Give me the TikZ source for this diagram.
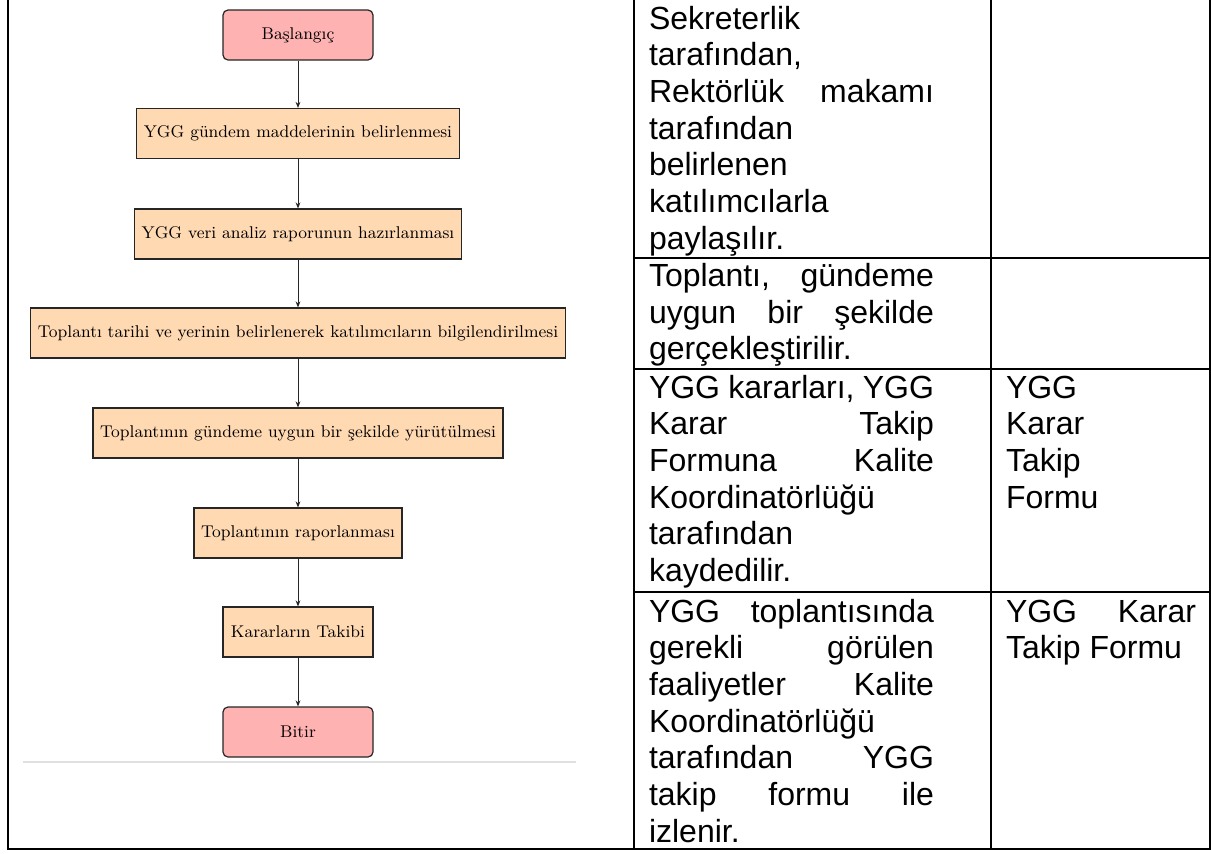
\documentclass[tikz,border=0pt]{standalone}
\usepackage{fontspec}
\newfontfamily\arialf{Liberation Sans}
\usetikzlibrary{arrows.meta}
\newlength{\colw}
\newlength{\colwb}
\setlength{\colw}{142.5pt}
\setlength{\colwb}{95pt}
\newcommand{\Jl}[1]{\hbox to \colw{#1}}
\newcommand{\Jr}[1]{\hbox to \colwb{#1}}
\begin{document}
\begin{tikzpicture}[x=0.5pt,y=-0.5pt,
  startstop/.style={rectangle, rounded corners=2.5pt, minimum width=75pt, minimum height=25pt,
    draw=black!85, line width=0.6pt, fill=red!30, inner sep=3.5pt,
    font=\fontsize{8.5}{10}\selectfont},
  procbox/.style={rectangle, minimum width=75pt, minimum height=25pt,
    draw=black!85, line width=0.6pt, fill=orange!30, inner sep=3.5pt,
    font=\fontsize{8.5}{10}\selectfont},
  flow/.style={-{Stealth[length=3pt,width=2.4pt]}, line width=0.5pt, black!85},
  gridline/.style={line width=1.1pt, black, line cap=rect},
  cell/.style={anchor=base west, inner sep=0pt, outer sep=0pt,
    font=\arialf\fontsize{16}{18.35}\selectfont}]
\useasboundingbox (0,0) rectangle (1211,853);
% flowchart
\node[startstop] (s) at (298,35) {Başlangıç};
\node[procbox] (p1) at (298,133.5) {YGG gündem maddelerinin belirlenmesi};
\node[procbox] (p2) at (298,234) {YGG veri analiz raporunun hazırlanması};
\node[procbox] (p3) at (298,333) {Toplantı tarihi ve yerinin belirlenerek katılımcıların bilgilendirilmesi};
\node[procbox] (p4) at (298,433) {Toplantının gündeme uygun bir şekilde yürütülmesi};
\node[procbox] (p5) at (298,533) {Toplantının raporlanması};
\node[procbox] (p6) at (298,632) {Kararların Takibi};
\node[startstop] (e) at (298,732) {Bitir};
\draw[flow] (s) -- (p1);
\draw[flow] (p1) -- (p2);
\draw[flow] (p2) -- (p3);
\draw[flow] (p3) -- (p4);
\draw[flow] (p4) -- (p5);
\draw[flow] (p5) -- (p6);
\draw[flow] (p6) -- (e);
\draw[line width=1pt, black!12] (23,762) -- (576,762);
% table grid
\draw[gridline] (8,0) -- (8,849) -- (1210,849) -- (1210,0);
\draw[gridline] (634,0) -- (634,849);
\draw[gridline] (991,0) -- (991,849);
\draw[gridline] (634,258) -- (1210,258);
\draw[gridline] (634,369) -- (1210,369);
\draw[gridline] (634,592) -- (1210,592);
% table text
\node[cell] (t1) at (649,29) {\parbox[t]{\colw}{%
\Jl{Sekreterlik\hfill}
\Jl{tarafından,\hfill}
\Jl{Rektörlük\hfill makamı}
\Jl{tarafından\hfill}
\Jl{belirlenen\hfill}
\Jl{katılımcılarla\hfill}
\Jl{paylaşılır.\hfill}}};
\node[cell] (t2) at (649,286.5) {\parbox[t]{\colw}{%
\Jl{Toplantı,\hfill gündeme}
\Jl{uygun\hfill bir\hfill şekilde}
\Jl{gerçekleştirilir.\hfill}}};
\node[cell] (t3) at (649,398) {\parbox[t]{\colw}{%
\Jl{YGG\hfill kararları,\hfill YGG}
\Jl{Karar\hfill Takip}
\Jl{Formuna\hfill Kalite}
\Jl{Koordinatörlüğü\hfill}
\Jl{tarafından\hfill}
\Jl{kaydedilir.\hfill}}};
\node[cell] (t4) at (649,622) {\parbox[t]{\colw}{%
\Jl{YGG\hfill toplantısında}
\Jl{gerekli\hfill görülen}
\Jl{faaliyetler\hfill Kalite}
\Jl{Koordinatörlüğü\hfill}
\Jl{tarafından\hfill YGG}
\Jl{takip\hfill formu\hfill ile}
\Jl{izlenir.\hfill}}};
\node[cell] (d3) at (1006,398) {\parbox[t]{\colwb}{%
\Jr{YGG\hfill}
\Jr{Karar\hfill}
\Jr{Takip\hfill}
\Jr{Formu\hfill}}};
\node[cell] (d4) at (1006,622) {\parbox[t]{\colwb}{%
\Jr{YGG\hfill Karar}
\Jr{Takip Formu\hfill}}};
\end{tikzpicture}
\end{document}
